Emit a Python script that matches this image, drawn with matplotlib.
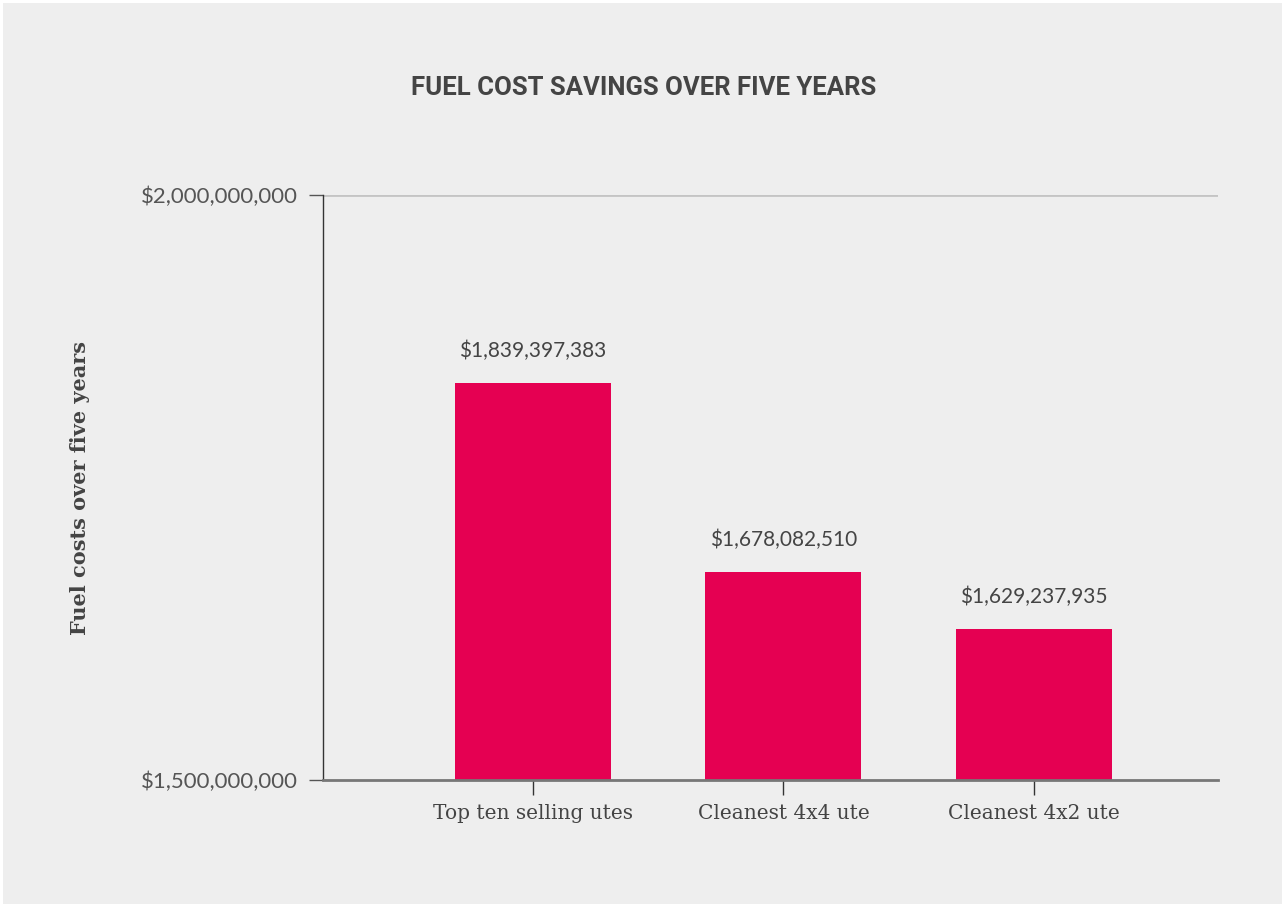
import numpy as np
import matplotlib.pyplot as plt

# data
categories = ['Top ten selling utes', 'Cleanest 4x4 ute', 'Cleanest 4x2 ute']
costs = [1839397383, 1678082510, 1629237935]
value_labels = ['$1,839,397,383', '$1,678,082,510', '$1,629,237,935']
ytick_values = [1500000000, 2000000000]
ytick_labels = ['$1,500,000,000', '$2,000,000,000']

bg = '#eeeeee'
text_col = '#444444'
bar_col = '#e50052'

fig = plt.figure(figsize=(12.85, 9.07), dpi=100)
fig.patch.set_facecolor('white')
# light panel with thin white border
fig.add_artist(plt.Rectangle((3 / 1285, 3 / 907), 1279 / 1285, 901 / 907,
                             transform=fig.transFigure, facecolor=bg,
                             edgecolor='none', zorder=-10))

ax = fig.add_axes([323 / 1285, 1 - 780 / 907, (1218 - 323) / 1285, (780 - 195) / 907])
ax.set_facecolor(bg)

x = np.arange(len(categories))
ax.bar(x, costs, width=0.623, color=bar_col, zorder=3)

for xi, v, lab in zip(x, costs, value_labels):
    ax.annotate(lab, (xi, v), xytext=(0, 23), textcoords='offset points',
                ha='center', va='center', fontsize=15, color=text_col,
                family=['Lato', 'DejaVu Sans'])

ax.set_xlim(-0.838, 2.735)
ax.set_ylim(1500000000, 2000000000)

ax.set_yticks(ytick_values)
ax.set_yticklabels(ytick_labels, fontsize=16, color='#555555',
                   family=['Lato', 'DejaVu Sans'])
ax.set_xticks(x)
ax.set_xticklabels(categories, fontsize=14.5, color=text_col,
                   family=['DejaVu Serif'])

ax.tick_params(axis='y', length=10, width=1, color='#555555', pad=8)
ax.tick_params(axis='x', length=11, width=1, color='#333333', pad=6)

# top gridline at max
ax.axhline(2000000000, color='#c4c4c4', linewidth=2, zorder=1)

for s in ['top', 'right']:
    ax.spines[s].set_visible(False)
ax.spines['left'].set_color('#333333')
ax.spines['left'].set_linewidth(1)
ax.spines['bottom'].set_color('#777777')
ax.spines['bottom'].set_linewidth(2)
ax.spines['bottom'].set_zorder(4)

fig.text(80 / 1285, 1 - 488 / 907, 'Fuel costs over five years', rotation=90,
         ha='center', va='center', fontsize=15, fontweight='bold',
         color=text_col, family=['DejaVu Serif'])

fig.text(644 / 1285, 1 - 88 / 907, 'FUEL COST SAVINGS OVER FIVE YEARS',
         ha='center', va='center', fontsize=18.5, fontweight='bold',
         color=text_col, family=['Roboto', 'DejaVu Sans'])

plt.savefig('out.png', dpi=100, facecolor=fig.get_facecolor())
